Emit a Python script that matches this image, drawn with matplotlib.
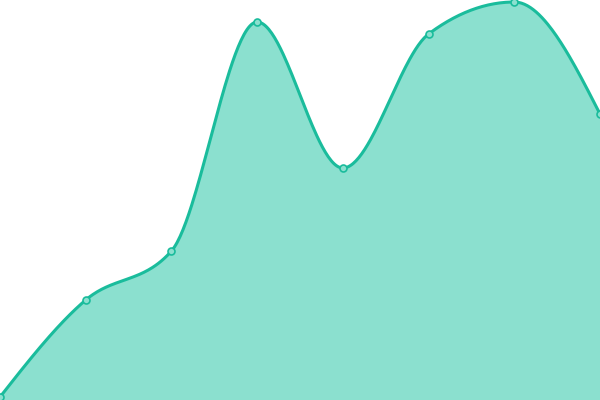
import numpy as np
import matplotlib.pyplot as plt

# values (0 = bottom, 400 = top)
labels = ["A", "B", "C", "D", "E", "F", "G", "H"]
values = [3, 100, 149, 378, 232, 366, 398, 286]

line_color = "#1abc9c"
fill_color = "#8be0cf"


def monotone_curve(x, y, n=60):
    # monotone cubic (same idea as d3 curveMonotoneX)
    x = np.asarray(x, float)
    y = np.asarray(y, float)
    h = np.diff(x)
    s = np.diff(y) / h
    m = np.zeros_like(y)
    for i in range(1, len(y) - 1):
        if s[i - 1] * s[i] <= 0:
            m[i] = 0
        else:
            p = (s[i - 1] * h[i] + s[i] * h[i - 1]) / (h[i - 1] + h[i])
            m[i] = np.sign(s[i - 1]) * min(abs(s[i - 1]), abs(s[i]), 0.5 * abs(p)) * 2
    m[0] = (3 * s[0] - m[1]) / 2 if len(y) > 2 else s[0]
    m[-1] = (3 * s[-1] - m[-2]) / 2 if len(y) > 2 else s[-1]
    xs, ys = [], []
    for i in range(len(h)):
        t = np.linspace(0, 1, n)
        h00 = 2 * t**3 - 3 * t**2 + 1
        h10 = t**3 - 2 * t**2 + t
        h01 = -2 * t**3 + 3 * t**2
        h11 = t**3 - t**2
        xs.append(x[i] + t * h[i])
        ys.append(h00 * y[i] + h10 * h[i] * m[i] + h01 * y[i + 1] + h11 * h[i] * m[i + 1])
    return np.concatenate(xs), np.concatenate(ys)


x = np.arange(len(values))
cx, cy = monotone_curve(x, values)

fig = plt.figure(figsize=(6, 4), dpi=100)
ax = fig.add_axes([0, 0, 1, 1])
ax.fill_between(cx, cy, 0, color=fill_color, linewidth=0)
ax.plot(cx, cy, color=line_color, linewidth=2.2, solid_capstyle="round")
ax.plot(x, values, "o", markersize=5, markerfacecolor=fill_color,
        markeredgecolor=line_color, markeredgewidth=1.2, clip_on=False)
ax.set_xlim(0, len(values) - 1)
ax.set_ylim(0, 400)
ax.axis("off")
fig.savefig("out.png")
